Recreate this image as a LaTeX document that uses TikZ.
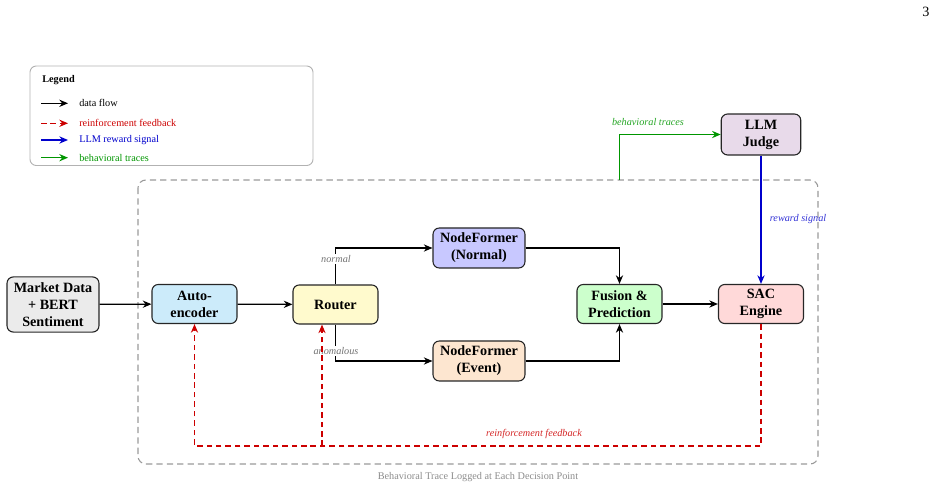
\documentclass[tikz,border=0pt]{standalone}
\usepackage{fontspec}
\setmainfont{Liberation Serif}
\usetikzlibrary{arrows.meta}
\definecolor{cRed}{RGB}{204,0,0}
\definecolor{cBlue}{RGB}{0,0,204}
\definecolor{cGreen}{RGB}{0,150,0}
\definecolor{fMarket}{RGB}{235,235,235}
\definecolor{fAuto}{RGB}{204,235,250}
\definecolor{fRouter}{RGB}{255,250,205}
\definecolor{fNormal}{RGB}{200,200,255}
\definecolor{fEvent}{RGB}{253,230,208}
\definecolor{fFusion}{RGB}{204,255,204}
\definecolor{fSAC}{RGB}{255,217,217}
\definecolor{fLLM}{RGB}{232,218,234}
\begin{document}
\begin{tikzpicture}[x=0.635pt,y=-0.635pt,
  box/.style={draw=black!85,line width=0.7pt,rounded corners=4pt,align=center,
    font=\bfseries\fontsize{9}{10.8}\selectfont,inner sep=0pt,
    minimum width=54pt,minimum height=24.8pt},
  tip/.style={-{Stealth[length=5.5pt,width=4.6pt,inset=1.8pt]}},
  flow/.style={tip,line width=0.8pt,black},
  redflow/.style={tip,line width=0.8pt,cRed,dash pattern=on 3.5pt off 2.5pt},
  blueflow/.style={tip,line width=0.8pt,cBlue},
  greenflow/.style={tip,line width=0.8pt,cGreen},
  lbl/.style={font=\itshape\fontsize{6.5}{7}\selectfont,inner sep=1pt},
  legtxt/.style={anchor=west,font=\fontsize{6.5}{7}\selectfont,inner sep=0pt}]
\path[use as bounding box] (0,0) rectangle (937,489);

% page number
\node[font=\fontsize{9}{10}\selectfont] (pg) at (926,12) {3};

% legend
\draw[black!30,line width=0.6pt,rounded corners=4pt] (30,66) rectangle (313,165.5);
\node[anchor=west,font=\bfseries\fontsize{6.5}{7}\selectfont,inner sep=0pt] (legt) at (42,80) {Legend};
\coordinate (l1a) at (41,103.3); \coordinate (l1b) at (68,103.3);
\coordinate (l2a) at (41,123.3); \coordinate (l2b) at (68,123.3);
\coordinate (l3a) at (41,140); \coordinate (l3b) at (68,140);
\coordinate (l4a) at (41,157.7); \coordinate (l4b) at (68,157.7);
\draw[flow] (l1a) -- (l1b);
\draw[redflow] (l2a) -- (l2b);
\draw[blueflow] (l3a) -- (l3b);
\draw[greenflow] (l4a) -- (l4b);
\node[legtxt] (lt1) at (79,103.3) {data flow};
\node[legtxt,text=cRed] (lt2) at (79,123.3) {reinforcement feedback};
\node[legtxt,text=cBlue] (lt3) at (79,140) {LLM reward signal};
\node[legtxt,text=cGreen] (lt4) at (79,157.7) {behavioral traces};

% dashed frame
\draw[black!40,line width=0.7pt,dash pattern=on 4pt off 2.6pt,rounded corners=5pt] (138,180) rectangle (818,464);
\node[text=black!45,font=\fontsize{6.5}{7}\selectfont] (cap) at (478,477) {Behavioral Trace Logged at Each Decision Point};

% nodes
\node[box,fill=fMarket,minimum width=58.4pt,minimum height=35pt] (md) at (53,304.5) {Market Data\\+ BERT\\Sentiment};
\node[box,fill=fAuto] (ae) at (194.5,304) {Auto-\\encoder};
\node[box,fill=fRouter] (rt) at (335.5,304.5) {Router};
\node[box,fill=fNormal,minimum width=58.4pt,minimum height=25.4pt] (nfn) at (479,248) {NodeFormer\\(Normal)};
\node[box,fill=fEvent,minimum width=58.4pt,minimum height=25.4pt] (nfe) at (479,361) {NodeFormer\\(Event)};
\node[box,fill=fFusion] (fp) at (619.5,304) {Fusion \&\\Prediction};
\node[box,fill=fSAC] (sac) at (761,304) {SAC\\Engine};
\node[box,fill=fLLM,minimum width=50.5pt,minimum height=26pt] (llm) at (761,134.5) {LLM\\Judge};

% data flow
\draw[flow] (md) -- (ae);
\draw[flow] (ae) -- (rt);
\draw[flow] (rt.north) |- (nfn.west);
\draw[flow] (rt.south) |- (nfe.west);
\draw[flow] (nfn.east) -| (fp.north);
\draw[flow] (nfe.east) -| (fp.south);
\draw[flow] (fp) -- (sac);
\node[lbl,fill=white,text=black!55] (ln) at (336,259) {normal};
\node[lbl,fill=white,text=black!55] (la) at (336,351) {anomalous};

% LLM reward
\draw[blueflow] (llm) -- (sac);
\node[lbl,anchor=west,text=cBlue!80] (lr) at (768,219) {reward signal};

% behavioral traces
\coordinate (gt) at (619.5,180);
\draw[greenflow] (gt) |- (llm.west);
\node[lbl,text=cGreen!85] (lb) at (648,122) {behavioral traces};

% reinforcement feedback
\coordinate (rb) at (761,446);
\coordinate (rbr) at (322,446);
\draw[redflow] (sac.south) -- (rb) -| (ae.south);
\draw[redflow] (rbr) -- (rbr |- rt.south);
\node[lbl,text=cRed!85] (lf) at (534,434) {reinforcement feedback};
\end{tikzpicture}
\end{document}
